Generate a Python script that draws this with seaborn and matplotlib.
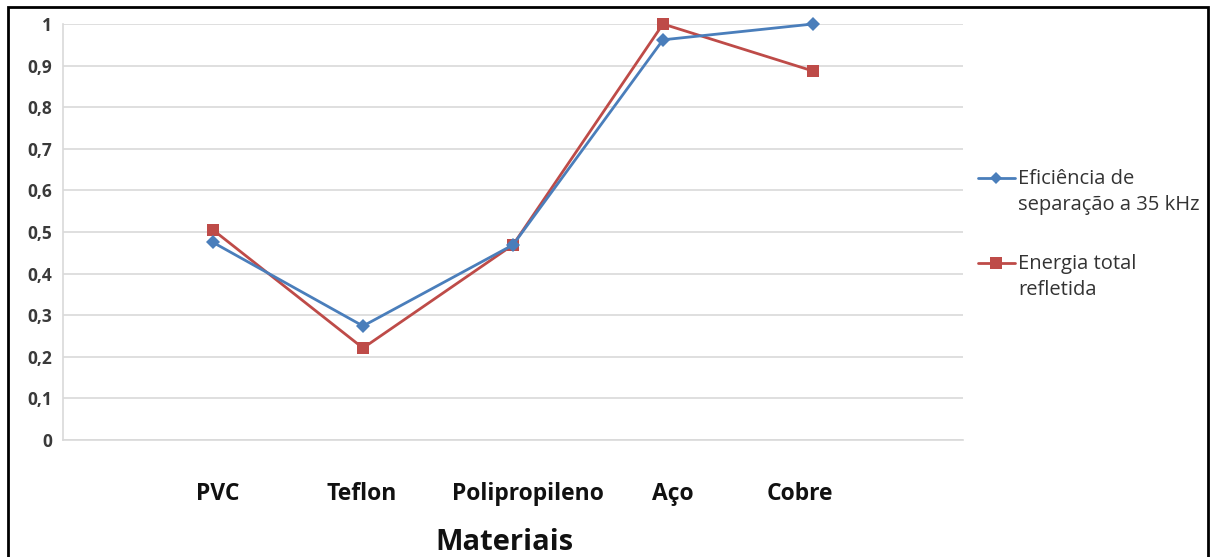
import matplotlib
matplotlib.use("Agg")
import matplotlib.pyplot as plt
from matplotlib.patches import Rectangle
from matplotlib.lines import Line2D
from matplotlib.transforms import ScaledTranslation
import seaborn as sns
import pandas as pd

materiais = ["PVC", "Teflon", "Polipropileno", "Aço", "Cobre"]
eficiencia = [0.475, 0.274, 0.469, 0.962, 1.0]
energia = [0.505, 0.221, 0.469, 1.0, 0.887]
serie_eficiencia = "Eficiência de\nseparação a 35 kHz"
serie_energia = "Energia total\nrefletida"
y_ticks = [0, 0.1, 0.2, 0.3, 0.4, 0.5, 0.6, 0.7, 0.8, 0.9, 1.0]
y_labels = ["0", "0,1", "0,2", "0,3", "0,4", "0,5", "0,6", "0,7", "0,8", "0,9", "1"]

df = pd.DataFrame({
    "Material": materiais * 2,
    "Valor": eficiencia + energia,
    "Serie": [serie_eficiencia] * len(materiais) + [serie_energia] * len(materiais),
})

sns.set_theme(style="white")
plt.rcParams["font.family"] = ["Open Sans", "DejaVu Sans"]

BLUE = "#4A7EBB"
RED = "#BE4B48"
GRID = "#D9D9D9"
W, H = 1216, 557

fig = plt.figure(figsize=(W / 100, H / 100), dpi=100)
ax = fig.add_axes([63 / W, 1 - 440 / H, 900 / W, 416 / H])

palette = {serie_eficiencia: BLUE, serie_energia: RED}
sns.lineplot(
    data=df, x="Material", y="Valor", hue="Serie", style="Serie",
    markers={serie_eficiencia: "D", serie_energia: "s"},
    dashes=False, palette=palette,
    linewidth=2.0, ax=ax, legend=False, sort=False,
)
for ln in ax.get_lines():
    is_blue = matplotlib.colors.to_hex(ln.get_color()).upper() == BLUE.upper()
    ln.set_markersize(7 if is_blue else 9)
    ln.set_markeredgewidth(0)
    ln.set_clip_on(False)
    ln.set_zorder(4 if is_blue else 3)

ax.set_xlim(-1, len(materiais))
ax.set_ylim(0, 1)
ax.set_yticks(y_ticks)
ax.set_yticklabels(y_labels, fontsize=12.5, fontweight="bold", color="#3A3A3A")
ax.set_xticks(range(len(materiais)))
ax.set_xticklabels(materiais, fontsize=16.5, fontweight="bold", color="#111111")
ax.tick_params(axis="y", length=5, width=1, color=GRID, pad=3)
ax.tick_params(axis="x", length=5, width=1, color=GRID, pad=25)

# nudge each category label a little, as in the original layout
shifts = [5, -1, 15, 10, -13]
for lab, dx in zip(ax.get_xticklabels(), shifts):
    lab.set_transform(lab.get_transform() + ScaledTranslation(dx / 100, 0, fig.dpi_scale_trans))

ax.grid(axis="y", color=GRID, linewidth=1.2)
ax.set_axisbelow(True)
for side in ["top", "right"]:
    ax.spines[side].set_visible(False)
for side in ["left", "bottom"]:
    ax.spines[side].set_color(GRID)
    ax.spines[side].set_linewidth(1.2)

ax.set_xlabel("Materiais", fontsize=21, fontweight="bold", color="#111111", va="center")
ax.xaxis.set_label_coords((504 - 63) / 900, -(543 - 440) / 416)
ax.set_ylabel("")

# legend keys and texts at the right, key aligned with the first text line
legend_rows = [(serie_eficiencia, BLUE, "D", 6, 178), (serie_energia, RED, "s", 8, 263)]
for label, color, marker, msize, ytop in legend_rows:
    yk = 1 - ytop / H
    fig.add_artist(Line2D([978 / W, 1015 / W], [yk, yk], transform=fig.transFigure,
                          color=color, linewidth=2.0))
    fig.add_artist(Line2D([996 / W], [yk], transform=fig.transFigure, color=color,
                          marker=marker, markersize=msize, markeredgewidth=0))
    fig.text(1018 / W, 1 - (ytop + 14) / H, label, fontsize=14.5, color="#333333",
             ha="left", va="center", linespacing=1.4)

# outer frame
fig.patches.append(Rectangle((8 / W, -0.1), 1200 / W, 1.1 - 7 / H,
                             transform=fig.transFigure, fill=False,
                             edgecolor="black", linewidth=2))

fig.savefig("out.png", dpi=100)
